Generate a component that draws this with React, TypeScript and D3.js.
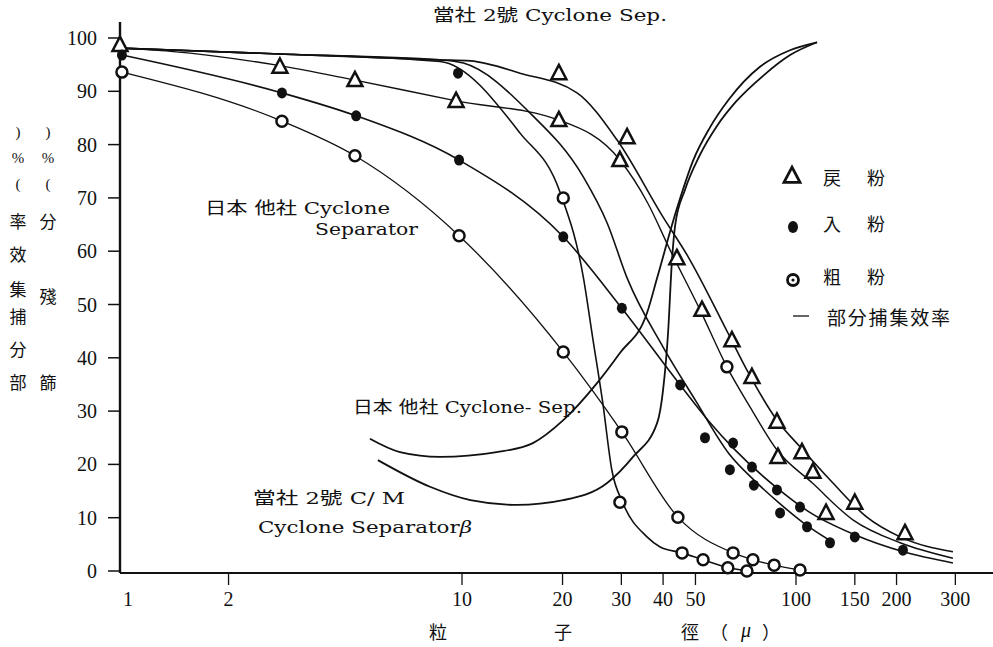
import React from 'react';
import * as d3 from 'd3';

// ---------- axis ticks ----------
const xTickValues = [1, 2, 10, 20, 30, 40, 50, 100, 150, 200, 300];
const yTickValues = [0, 10, 20, 30, 40, 50, 60, 70, 80, 90, 100];

// ---------- markers (particle size µ, %) ----------
const triX = [0.946, 2.85, 4.78, 9.6, 19.5, 19.5, 31.2, 29.7, 44.0, 52.3, 64.3, 73.8, 87.7, 88.3, 104.2, 112.4, 123, 150, 212];
const triY = [98.7, 94.6, 92.1, 88.2, 84.6, 93.4, 81.4, 77.1, 58.7, 49.0, 43.3, 36.4, 28.0, 21.4, 22.3, 18.6, 10.9, 12.8, 7.1];

const dotX = [0.959, 2.89, 4.82, 9.73, 9.8, 20.1, 30.1, 45.0, 53.4, 64.8, 63.4, 73.8, 74.8, 87.7, 89.6, 102.8, 107.9, 126.4, 150, 209];
const dotY = [96.8, 89.7, 85.4, 93.4, 77.1, 62.7, 49.3, 34.9, 25.0, 24.0, 19.0, 19.5, 16.1, 15.2, 10.9, 12.0, 8.3, 5.3, 6.4, 3.9];

const cirX = [0.959, 2.89, 4.78, 9.8, 20.1, 20.1, 30.1, 29.7, 62.1, 44.3, 45.6, 52.7, 64.8, 62.5, 74.3, 71.3, 86.0, 102.8];
const cirY = [93.6, 84.4, 77.9, 62.9, 70.0, 41.1, 26.1, 12.9, 38.3, 10.1, 3.4, 2.1, 3.4, 0.6, 2.1, 0.0, 1.1, 0.2];

// ---------- partial collection efficiency curves ----------
// 當社 2號 Cyclone Sep.
const oursTriX = [0.946, 2.85, 8.59, 10.6, 14.9, 22.1, 29.1, 40.0, 47.5, 62.5, 71.3, 87.7, 102.8, 129, 163, 205, 295];
const oursTriY = [98.1, 97.0, 95.9, 95.7, 93.4, 89.7, 80.9, 66.4, 59.0, 44.7, 37.7, 28.3, 23.3, 16.5, 10.1, 6.4, 3.6];
const oursDotX = [0.946, 2.85, 8.59, 10.1, 16.0, 23.1, 27.2, 31.2, 40.0, 50.0, 63.0, 75.0, 90.0, 108, 128];
const oursDotY = [98.1, 97.0, 95.9, 95.3, 85.9, 73.9, 65.3, 55.0, 42.0, 32.0, 22.0, 17.0, 12.5, 8.5, 5.5];
const oursCirX = [0.946, 2.85, 8.59, 14.9, 19.7, 23.1, 24.6, 26.4, 28.1, 30.3, 35.8, 39.2, 45.6, 52.7, 63.2, 71.3];
const oursCirY = [98.1, 97.0, 95.6, 82.2, 70.9, 55.0, 43.9, 31.5, 18.9, 12.8, 6.4, 4.5, 3.4, 2.1, 0.6, 0.0];

// 日本 他社 Cyclone Separator
const otherTriX = [0.946, 1.34, 2.79, 4.78, 9.6, 19.5, 29.7, 36.0, 42.0, 51.6, 62.1, 72.8, 87.7, 112, 148, 205, 295];
const otherTriY = [98.1, 97.5, 94.9, 92.1, 88.2, 84.6, 77.1, 69.0, 60.2, 49.0, 38.3, 30.8, 22.7, 16.5, 9.6, 5.3, 2.4];
const otherDotX = [0.959, 2.89, 4.82, 9.8, 20.1, 30.1, 45.0, 55.0, 65.0, 88.0, 110, 150, 210, 295];
const otherDotY = [96.8, 89.7, 85.4, 77.1, 62.7, 49.3, 34.9, 28.0, 23.0, 15.5, 11.0, 6.8, 3.6, 1.5];
const otherCirX = [0.959, 2.89, 4.78, 9.8, 20.1, 30.1, 44.3, 64.8, 74.3, 86.0, 102.8];
const otherCirY = [93.6, 84.4, 77.9, 62.9, 41.1, 26.1, 10.1, 3.4, 2.1, 1.1, 0.2];

// ---------- sieve residue curves ----------
const sieveOtherX = [5.3, 6.52, 8.59, 12.7, 16.3, 20.1, 25.4, 29.7, 35.8, 38.4, 44.0, 49.2, 55.0, 63.0, 78.0, 95.9, 115.6];
const sieveOtherY = [24.8, 22.3, 21.4, 22.3, 24.0, 28.3, 35.3, 40.9, 48.4, 55.0, 68.0, 77.0, 83.0, 88.5, 94.6, 97.7, 99.2];
const sieveOursX = [5.6, 8.02, 10.6, 14.6, 20.1, 27.2, 32.5, 38.4, 40.0, 41.4, 42.5, 43.5, 46.5, 51.5, 58.0, 66.0, 80.0, 96.0, 115.6];
const sieveOursY = [20.8, 15.8, 13.3, 12.4, 13.3, 16.5, 21.4, 27.8, 34.0, 44.7, 58.0, 65.0, 71.5, 78.0, 83.5, 88.0, 93.0, 96.8, 99.2];

// ---------- texts ----------
const legendNames = [['戻', '粉'], ['入', '粉'], ['粗', '粉']];
const legendLineName = '部分捕集效率';
const xTitleChars = ['粒', '子', '徑'];
const yTitle1 = ['部', '分', '捕', '集', '效', '率', '(', '%', ')'];
const yTitle2 = ['篩', '殘', '分', '(', '%', ')'];

const NUM = "'Liberation Serif',serif";
const SERIF = "'DejaVu Serif','Noto Sans CJK JP',serif";
const CJK = "'Noto Sans CJK JP','Liberation Serif',sans-serif";

const zip = (xs: number[], ys: number[]) => xs.map((v, i) => [v, ys[i]] as [number, number]);

export default function App() {
  const W = 993, H = 647;
  const x = d3.scaleLog().domain([1, 10]).range([128, 462]);
  const y = d3.scaleLinear().domain([0, 100]).range([571, 38]);
  const axisX = 120, axisY = 573;

  const line = d3.line<[number, number]>()
    .x(d => x(d[0]))
    .y(d => y(d[1]))
    .curve(d3.curveMonotoneX);

  const curves: [number[], number[], number][] = [
    [oursTriX, oursTriY, 1.6],
    [oursDotX, oursDotY, 1.6],
    [oursCirX, oursCirY, 1.6],
    [otherTriX, otherTriY, 1.4],
    [otherDotX, otherDotY, 1.6],
    [otherCirX, otherCirY, 1.3],
    [sieveOtherX, sieveOtherY, 1.8],
    [sieveOursX, sieveOursY, 1.8],
  ];

  const tri = (cx: number, cy: number, s: number) =>
    `M${cx},${cy - s * 0.55} L${cx + s * 0.5},${cy + s * 0.4} L${cx - s * 0.5},${cy + s * 0.4} Z`;

  // y title layout (pixel rows)
  const yRows1 = [383, 350, 317, 290, 255, 222, 183, 157, 131];
  const yRows2 = [383, 297, 222, 183, 157, 131];
  const smallChar = (c: string) => c === '(' || c === ')' || c === '%';

  const legendRows = [178, 224, 277];

  return (
    <svg width={W} height={H} style={{ position: 'absolute', left: 0, top: 0, background: '#fff' }}>
      <rect x={0} y={0} width={W} height={H} fill="#fff" />
      {/* axes */}
      <line x1={axisX} y1={22} x2={axisX} y2={axisY} stroke="#111" strokeWidth={2.4} />
      <line x1={axisX} y1={axisY} x2={W} y2={axisY} stroke="#111" strokeWidth={2.2} />
      {yTickValues.map(v => (
        <g key={'yt' + v}>
          <line x1={108} x2={axisX} y1={y(v)} y2={y(v)} stroke="#111" strokeWidth={1.5} />
          <text x={97} y={y(v) + 7} textAnchor="end" fontFamily={NUM} fontSize={20} fill="#111">{v}</text>
        </g>
      ))}
      {xTickValues.map(v => (
        <g key={'xt' + v}>
          {v !== 1 && <line x1={x(v)} x2={x(v)} y1={axisY} y2={axisY + 12} stroke="#111" strokeWidth={1.3} />}
          <text x={x(v)} y={606} textAnchor="middle" fontFamily={NUM} fontSize={20} fill="#111">{v}</text>
        </g>
      ))}

      {/* curves */}
      {curves.map(([xs, ys, w], i) => (
        <path key={'c' + i} d={line(zip(xs, ys)) || ''} fill="none" stroke="#111" strokeWidth={w} />
      ))}

      {/* markers */}
      {zip(triX, triY).map(([a, b], i) => (
        <path key={'t' + i} d={tri(x(a), y(b), 15)} fill="#fff" stroke="#111" strokeWidth={2.5} strokeLinejoin="miter" />
      ))}
      {zip(dotX, dotY).map(([a, b], i) => (
        <ellipse key={'d' + i} cx={x(a)} cy={y(b)} rx={5} ry={5.5} fill="#111" />
      ))}
      {zip(cirX, cirY).map(([a, b], i) => (
        <circle key={'o' + i} cx={x(a)} cy={y(b)} r={5.5} fill="#fff" stroke="#111" strokeWidth={2.5} />
      ))}

      {/* annotations */}
      <text x={433} y={21} fontFamily={SERIF} fontSize={17} fill="#111" textLength={234} lengthAdjust="spacingAndGlyphs">當社 2號 Cyclone Sep.</text>
      <text x={205} y={214} fontFamily={SERIF} fontSize={17} fill="#111" textLength={185} lengthAdjust="spacingAndGlyphs">日本 他社 Cyclone</text>
      <text x={315} y={235} fontFamily={SERIF} fontSize={17} fill="#111" textLength={103} lengthAdjust="spacingAndGlyphs">Separator</text>
      <text x={353} y={413} fontFamily={SERIF} fontSize={17} fill="#111" textLength={229} lengthAdjust="spacingAndGlyphs">日本 他社 Cyclone- Sep.</text>
      <text x={253} y={504} fontFamily={SERIF} fontSize={17} fill="#111" textLength={152} lengthAdjust="spacingAndGlyphs">當社 2號 C/ M</text>
      <text x={258} y={533} fontFamily={SERIF} fontSize={17} fill="#111" textLength={214} lengthAdjust="spacingAndGlyphs">
        Cyclone  Separator<tspan fontStyle="italic">β</tspan>
      </text>

      {/* legend */}
      <path d={tri(792, legendRows[0] - 2, 16)} fill="#fff" stroke="#111" strokeWidth={2.8} />
      <ellipse cx={793} cy={legendRows[1] + 3} rx={5} ry={6} fill="#111" />
      <circle cx={793} cy={legendRows[2] + 3} r={5.5} fill="#fff" stroke="#111" strokeWidth={2.8} />
      <circle cx={793} cy={legendRows[2] + 3} r={1.6} fill="#111" />
      {legendNames.map((pair, i) => (
        <g key={'lg' + i}>
          <text x={832} y={legendRows[i] + 7} textAnchor="middle" fontFamily={CJK} fontSize={18} fill="#111">{pair[0]}</text>
          <text x={876} y={legendRows[i] + 7} textAnchor="middle" fontFamily={CJK} fontSize={18} fill="#111">{pair[1]}</text>
        </g>
      ))}
      <line x1={793} x2={809} y1={316} y2={316} stroke="#111" strokeWidth={1.3} />
      <text x={827} y={325} fontFamily={CJK} fontSize={19} fill="#111" textLength={123} lengthAdjust="spacing">{legendLineName}</text>

      {/* x title */}
      {xTitleChars.map((c, i) => (
        <text key={'xc' + i} x={[438, 563, 690][i]} y={639} textAnchor="middle" fontFamily={CJK} fontSize={18} fill="#111">{c}</text>
      ))}
      <text x={719} y={639} textAnchor="middle" fontFamily={CJK} fontSize={18} fill="#111">（</text>
      <text x={746} y={637} textAnchor="middle" fontFamily={NUM} fontSize={20} fontStyle="italic" fill="#111">μ</text>
      <text x={771} y={639} textAnchor="middle" fontFamily={CJK} fontSize={18} fill="#111">）</text>

      {/* y titles */}
      {yTitle1.map((c, i) => (
        <text key={'y1' + i} x={18} y={yRows1[i] + 6} textAnchor="middle" fontFamily={smallChar(c) ? NUM : CJK} fontSize={smallChar(c) ? 15 : 17} fill="#111">{c}</text>
      ))}
      {yTitle2.map((c, i) => (
        <text key={'y2' + i} x={48} y={yRows2[i] + 6} textAnchor="middle" fontFamily={smallChar(c) ? NUM : CJK} fontSize={smallChar(c) ? 15 : 17} fill="#111">{c}</text>
      ))}
    </svg>
  );
}
